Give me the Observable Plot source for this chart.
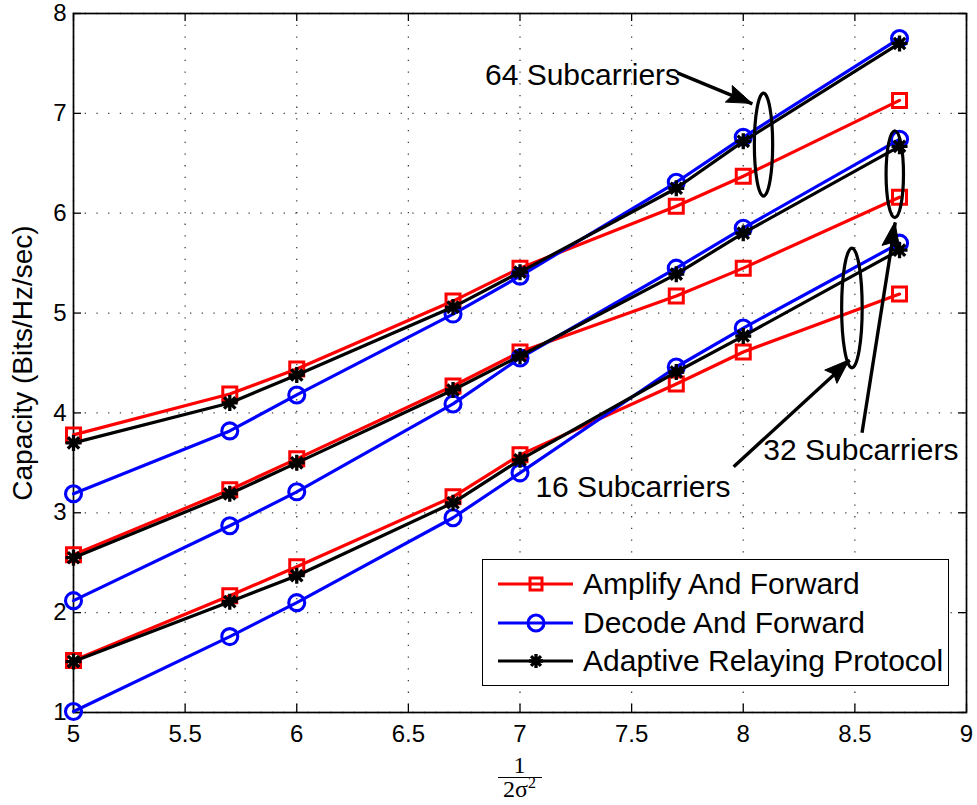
<!DOCTYPE html>
<html>
<head>
<meta charset="utf-8">
<script src="https://cdn.jsdelivr.net/npm/d3@7"></script>
<script src="https://cdn.jsdelivr.net/npm/@observablehq/plot@0.6"></script>
<style>
  html, body { margin: 0; padding: 0; background: #fff; }
  #wrap { position: relative; width: 977px; height: 805px; font-family: "Liberation Sans", Arial, sans-serif; }
  #legend { position: absolute; left: 482px; top: 559px; width: 467px; height: 127px; box-sizing: border-box;
            border: 1.5px solid #000; background: #fff; }
  .row { position: absolute; left: 0; height: 38px; display: flex; align-items: center; }
  .row span { font-size: 30px; color: #000; white-space: nowrap; }
  .xl { position: absolute; transform: translateX(-50%); white-space: nowrap; height: 20px;
        font-family: "Liberation Serif", "DejaVu Serif", serif; font-size: 24px; line-height: 20px; }
  .xl sup { font-size: 16px; vertical-align: 9px; line-height: 0; }
  #xrule { position: absolute; left: 498px; width: 44px; top: 776.5px; height: 1.7px; background: #000; }
</style>
</head>
<body>
<div id="wrap"></div>
<script>
// ---- data ----
const xValues = [5, 5.7, 6, 6.7, 7, 7.7, 8, 8.7];

const af64  = [3.78, 4.19, 4.44, 5.12, 5.45, 6.07, 6.37, 7.13];
const df64  = [3.19, 3.82, 4.18, 4.99, 5.37, 6.31, 6.76, 7.75];
const arp64 = [3.70, 4.10, 4.38, 5.06, 5.41, 6.25, 6.72, 7.70];

const af32  = [2.58, 3.23, 3.54, 4.27, 4.61, 5.17, 5.45, 6.16];
const df32  = [2.12, 2.87, 3.21, 4.09, 4.55, 5.45, 5.85, 6.74];
const arp32 = [2.55, 3.19, 3.50, 4.23, 4.57, 5.39, 5.80, 6.67];

const af16  = [1.52, 2.17, 2.46, 3.16, 3.58, 4.29, 4.61, 5.19];
const df16  = [1.01, 1.76, 2.10, 2.95, 3.40, 4.46, 4.85, 5.70];
const arp16 = [1.51, 2.11, 2.37, 3.10, 3.53, 4.41, 4.77, 5.63];

const seriesNames = ["Amplify And Forward", "Decode And Forward", "Adaptive Relaying Protocol"];
const seriesColors = ["#ff0000", "#0000ff", "#000000"];

const xTicks = [5, 5.5, 6, 6.5, 7, 7.5, 8, 8.5, 9];
const yTicks = [1, 2, 3, 4, 5, 6, 7, 8];

const yLabel = "Capacity (Bits/Hz/sec)";
const xLabelNum = "1";
const xLabelDen = "2σ<sup>2</sup>";

// annotations (in data units)
const annoTexts = [
  {text: "64 Subcarriers", x: 7.28, y: 7.385},
  {text: "32 Subcarriers", x: 8.527, y: 3.62},
  {text: "16 Subcarriers", x: 7.506, y: 3.255}
];
const annoEllipses = [
  {x: 8.093, y: 6.682, rx: 0.041, ry: 0.515},
  {x: 8.681, y: 6.386, rx: 0.039, ry: 0.435},
  {x: 8.489, y: 5.046, rx: 0.046, ry: 0.60}
];
const annoArrows = [
  {x1: 7.705, y1: 7.406, x2: 8.041, y2: 7.095},
  {x1: 8.532, y1: 3.802, x2: 8.681, y2: 5.906},
  {x1: 7.957, y1: 3.461, x2: 8.477, y2: 4.527}
];

// ---- build table ----
const groups = [
  {name: "64", series: [af64, df64, arp64]},
  {name: "32", series: [af32, df32, arp32]},
  {name: "16", series: [af16, df16, arp16]}
];
const rows = [];
seriesNames.forEach((s, si) => {
  groups.forEach(g => {
    g.series[si].forEach((v, i) => rows.push({series: s, si, group: g.name, x: xValues[i], y: v}));
  });
});

// ---- symbols ----
const squareSym = {draw(ctx, size) { const r = Math.sqrt(size / Math.PI); ctx.rect(-r, -r, 2 * r, 2 * r); }};
const circleSym = {draw(ctx, size) { const r = Math.sqrt(size / Math.PI); ctx.moveTo(r, 0); ctx.arc(0, 0, r, 0, 2 * Math.PI); }};
const starSym = {draw(ctx, size) {
  const r = Math.sqrt(size / Math.PI), d = r * Math.SQRT1_2;
  ctx.moveTo(-r, 0); ctx.lineTo(r, 0); ctx.moveTo(0, -r); ctx.lineTo(0, r);
  ctx.moveTo(-d, -d); ctx.lineTo(d, d); ctx.moveTo(-d, d); ctx.lineTo(d, -d);
}};
const symbols = [squareSym, circleSym, starSym];
const symR = [7, 8, 8];
const symSW = [3, 3.1, 3.3];

const W = 977, H = 805, mL = 73, mR = 11, mT = 13, mB = 93;
const innerW = W - mL - mR, innerH = H - mT - mB;

const seriesMarks = [];
seriesNames.forEach((s, si) => {
  const d = rows.filter(r => r.si === si);
  seriesMarks.push(Plot.line(d, {x: "x", y: "y", z: "group", stroke: seriesColors[si], strokeWidth: 3.2, strokeLinejoin: "round"}));
  seriesMarks.push(Plot.dot(d, {x: "x", y: "y", symbol: () => symbols[si], r: symR[si], fill: "none", stroke: seriesColors[si], strokeWidth: symSW[si]}));
});

const ellipseMark = Plot.dot(annoEllipses, {
  x: "x", y: "y",
  render(index, scales) {
    const g = d3.create("svg:g");
    for (const i of index) {
      const e = annoEllipses[i];
      const cx = scales.x(e.x), cy = scales.y(e.y);
      const rx = Math.abs(scales.x(e.x + e.rx) - cx), ry = Math.abs(scales.y(e.y + e.ry) - cy);
      g.append("ellipse").attr("cx", cx).attr("cy", cy).attr("rx", rx).attr("ry", ry)
        .attr("fill", "none").attr("stroke", "#000").attr("stroke-width", 3.2);
    }
    return g.node();
  }
});

const arrowHeadMark = Plot.dot(annoArrows, {
  x: "x2", y: "y2",
  render(index, scales) {
    const g = d3.create("svg:g");
    for (const i of index) {
      const a = annoArrows[i];
      const X1 = scales.x(a.x1), Y1 = scales.y(a.y1), X2 = scales.x(a.x2), Y2 = scales.y(a.y2);
      const len = Math.hypot(X2 - X1, Y2 - Y1), ux = (X2 - X1) / len, uy = (Y2 - Y1) / len;
      const L = 25, Wd = 9;
      const bx = X2 - ux * L, by = Y2 - uy * L;
      const pts = [[X2, Y2], [bx - uy * Wd, by + ux * Wd], [bx + ux * 4 , by + uy * 4], [bx + uy * Wd, by - ux * Wd]];
      g.append("path").attr("d", "M" + pts.map(p => p.join(",")).join("L") + "Z").attr("fill", "#000").attr("stroke", "#000").attr("stroke-width", 1);
    }
    return g.node();
  }
});

const chart = Plot.plot({
  width: W, height: H,
  marginLeft: mL, marginRight: mR, marginTop: mT, marginBottom: mB,
  style: {fontFamily: "'Liberation Sans', Arial, sans-serif", background: "#fff", overflow: "visible"},
  x: {domain: [5, 9]},
  y: {domain: [1, 8]},
  marks: [
    Plot.gridX(xTicks, {stroke: "#000", strokeOpacity: 0.75, strokeWidth: 1.3, strokeDasharray: "1.3,10.4"}),
    Plot.gridY(yTicks, {stroke: "#000", strokeOpacity: 0.75, strokeWidth: 1.3, strokeDasharray: "1.3,10.4"}),
    Plot.tickX(xTicks, {x: d => d, insetTop: innerH - 8, strokeWidth: 1.3}),
    Plot.tickX(xTicks, {x: d => d, insetBottom: innerH - 8, strokeWidth: 1.3}),
    Plot.tickY(yTicks, {y: d => d, insetRight: innerW - 8, strokeWidth: 1.3}),
    Plot.tickY(yTicks, {y: d => d, insetLeft: innerW - 8, strokeWidth: 1.3}),
    Plot.frame({stroke: "#000", strokeWidth: 1.7}),
    Plot.axisX({ticks: xTicks, tickSize: 0, tickPadding: 12, label: null, fontSize: 24, tickFormat: d => `${d}`}),
    Plot.axisY({ticks: yTicks, tickSize: 0, tickPadding: 7, label: null, fontSize: 24, tickFormat: d => `${d}`}),
    Plot.text([yLabel], {frameAnchor: "left", rotate: -90, dx: -50, fontSize: 28, fill: "#000", textAnchor: "middle", lineAnchor: "middle"}),
    ...seriesMarks,
    ellipseMark,
    Plot.link(annoArrows, {x1: "x1", y1: "y1", x2: "x2", y2: "y2", stroke: "#000", strokeWidth: 3.4}),
    arrowHeadMark,
    Plot.text(annoTexts, {x: "x", y: "y", text: "text", fontSize: 30, fill: "#000", textAnchor: "middle", lineAnchor: "middle"})
  ]
});

const wrap = document.getElementById("wrap");
wrap.appendChild(chart);

// legend
const legend = document.createElement("div");
legend.id = "legend";
const rowTops = [5, 44, 82];
seriesNames.forEach((name, si) => {
  const row = document.createElement("div");
  row.className = "row";
  row.style.top = rowTops[si] + "px";
  const svg = d3.create("svg").attr("width", 100).attr("height", 38);
  svg.append("line").attr("x1", 15).attr("x2", 90).attr("y1", 19).attr("y2", 19)
    .attr("stroke", seriesColors[si]).attr("stroke-width", 3.2);
  const r = si === 0 ? 6 : si === 1 ? 8 : 7;
  svg.append("path").attr("transform", "translate(53,19)")
    .attr("d", d3.symbol(symbols[si], Math.PI * r * r)())
    .attr("fill", "none").attr("stroke", seriesColors[si]).attr("stroke-width", symSW[si]);
  row.appendChild(svg.node());
  const sp = document.createElement("span");
  sp.textContent = name;
  row.appendChild(sp);
  legend.appendChild(row);
});
wrap.appendChild(legend);

// x label (fraction 1 / 2σ²)
const num = document.createElement("div");
num.className = "xl"; num.style.left = "519.5px"; num.style.top = "755px";
num.textContent = xLabelNum;
wrap.appendChild(num);
const rule = document.createElement("div");
rule.id = "xrule";
wrap.appendChild(rule);
const den = document.createElement("div");
den.className = "xl"; den.style.left = "519.5px"; den.style.top = "779px";
den.innerHTML = xLabelDen;
wrap.appendChild(den);
</script>
</body>
</html>
